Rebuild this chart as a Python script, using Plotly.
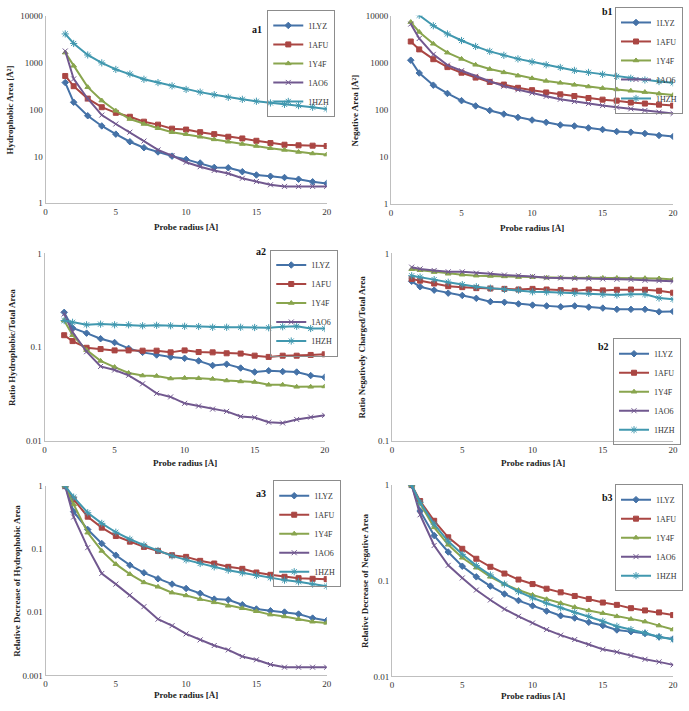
import plotly.graph_objects as go

# ---------------- data ----------------
radius = [1.4, 2, 3, 4, 5, 6, 7, 8, 9, 10, 11, 12, 13, 14, 15, 16, 17, 18, 19, 20]
proteins = ["1LYZ", "1AFU", "1Y4F", "1AO6", "1HZH"]

# a1: Hydrophobic area
a1_1LYZ = [376, 143, 73.6, 44.6, 29.8, 20.5, 15.3, 12.4, 10.1, 8.6, 7.2, 5.8, 5.7, 4.7, 4.0, 3.76, 3.53, 3.25, 2.86, 2.64]
a1_1AFU = [520, 315, 171, 112, 85, 70, 55, 47.5, 39, 37.3, 32.8, 29.8, 26.2, 24.1, 21.5, 19.2, 17.7, 17.2, 16.9, 16.6]
a1_1Y4F = [1640, 857, 300, 155, 94, 62.5, 49, 39.8, 32.8, 29.8, 26.2, 23, 20.5, 18.3, 16.6, 14.9, 13.7, 12.4, 11.5, 10.9]
a1_1AO6 = [1775, 450, 170, 76, 49, 32.8, 21.2, 13.7, 10.4, 7.5, 6.0, 5.0, 4.3, 3.4, 2.9, 2.47, 2.28, 2.28, 2.28, 2.28]
a1_1HZH = [4110, 2570, 1460, 990, 718, 573, 442, 376, 320, 268, 235, 207, 182, 165, 150, 138, 129, 121, 112, 103]

# b1: Negative area
b1_1LYZ = [1142, 610, 337, 225, 158, 122, 97.7, 81.9, 69.7, 61.2, 54.7, 48.1, 45.8, 41.6, 38.5, 34.9, 33.8, 31.7, 28.8, 27.4]
b1_1AFU = [2850, 1940, 1200, 815, 620, 488, 395, 347, 296, 264, 236, 215, 198, 180, 166, 158, 144, 137, 130, 124]
b1_1Y4F = [7370, 4550, 2550, 1650, 1218, 912, 740, 630, 536, 472, 415, 377, 342, 315, 291, 273, 256, 240, 222, 208]
b1_1AO6 = [6690, 3300, 1520, 897, 683, 520, 408, 321, 269, 229, 195, 169, 151, 137, 124, 115, 106, 97.7, 90, 84.6]
b1_1HZH = [16000, 10300, 6170, 4130, 2990, 2240, 1760, 1450, 1218, 1054, 912, 802, 694, 630, 572, 519, 472, 435, 402, 377]

# a2: Ratio hydrophobic / total area
a2_1LYZ = [0.235, 0.16, 0.141, 0.123, 0.112, 0.0969, 0.0879, 0.0824, 0.0786, 0.076, 0.0713, 0.0637, 0.0658, 0.0598, 0.0542, 0.056, 0.0548, 0.0542, 0.0497, 0.0477]
a2_1AFU = [0.134, 0.116, 0.0984, 0.0953, 0.0923, 0.0923, 0.0916, 0.0916, 0.0879, 0.0923, 0.0886, 0.0879, 0.0859, 0.0853, 0.0811, 0.0786, 0.081, 0.081, 0.0825, 0.0838]
a2_1Y4F = [0.192, 0.134, 0.093, 0.0713, 0.0612, 0.053, 0.0497, 0.0492, 0.0462, 0.0469, 0.0465, 0.0458, 0.044, 0.043, 0.0424, 0.0396, 0.0396, 0.0377, 0.0377, 0.038]
a2_1AO6 = [0.226, 0.145, 0.0893, 0.0622, 0.0569, 0.05, 0.0406, 0.0321, 0.0294, 0.0251, 0.0235, 0.0218, 0.0206, 0.0182, 0.0177, 0.0158, 0.0155, 0.0169, 0.0179, 0.0187]
a2_1HZH = [0.192, 0.184, 0.173, 0.176, 0.173, 0.173, 0.169, 0.171, 0.169, 0.167, 0.166, 0.163, 0.163, 0.163, 0.162, 0.161, 0.165, 0.167, 0.158, 0.158]

# b2: Ratio negatively charged / total area
b2_1LYZ = [0.71, 0.664, 0.637, 0.614, 0.597, 0.576, 0.553, 0.549, 0.538, 0.53, 0.525, 0.519, 0.525, 0.517, 0.511, 0.503, 0.503, 0.503, 0.488, 0.49]
b2_1AFU = [0.731, 0.716, 0.691, 0.669, 0.661, 0.653, 0.65, 0.647, 0.642, 0.647, 0.642, 0.637, 0.632, 0.642, 0.635, 0.64, 0.642, 0.64, 0.632, 0.617]
b2_1Y4F = [0.824, 0.814, 0.795, 0.779, 0.77, 0.761, 0.758, 0.754, 0.748, 0.748, 0.742, 0.742, 0.74, 0.742, 0.74, 0.74, 0.738, 0.738, 0.735, 0.725]
b2_1AO6 = [0.845, 0.827, 0.811, 0.798, 0.798, 0.785, 0.779, 0.767, 0.761, 0.754, 0.742, 0.74, 0.736, 0.733, 0.731, 0.728, 0.725, 0.719, 0.716, 0.71]
b2_1HZH = [0.76, 0.748, 0.725, 0.702, 0.682, 0.664, 0.653, 0.642, 0.637, 0.624, 0.622, 0.617, 0.612, 0.612, 0.605, 0.6, 0.605, 0.605, 0.578, 0.569]

# a3: Relative decrease of hydrophobic area
a3_1LYZ = [1, 0.393, 0.205, 0.123, 0.0804, 0.0559, 0.0423, 0.034, 0.028, 0.0239, 0.02, 0.0162, 0.0158, 0.0132, 0.0113, 0.0106, 0.0101, 0.0094, 0.0081, 0.0074]
a3_1AFU = [1, 0.616, 0.328, 0.22, 0.162, 0.132, 0.109, 0.094, 0.0804, 0.0757, 0.0655, 0.0594, 0.0526, 0.0489, 0.0428, 0.0393, 0.0366, 0.0348, 0.034, 0.0336]
a3_1Y4F = [1, 0.513, 0.183, 0.094, 0.058, 0.0403, 0.0298, 0.0254, 0.0205, 0.0185, 0.0162, 0.0144, 0.0127, 0.0116, 0.0104, 0.0092, 0.0086, 0.0078, 0.0071, 0.0068]
a3_1AO6 = [1, 0.324, 0.106, 0.0413, 0.028, 0.0188, 0.0123, 0.0078, 0.00615, 0.00455, 0.00366, 0.00298, 0.00254, 0.002, 0.00177, 0.00149, 0.00135, 0.00135, 0.00135, 0.00135]
a3_1HZH = [1, 0.67, 0.379, 0.257, 0.186, 0.144, 0.116, 0.0953, 0.0785, 0.0679, 0.0594, 0.0526, 0.0466, 0.0423, 0.0384, 0.0353, 0.0324, 0.0305, 0.028, 0.026]

# b3: Relative decrease of negative area
b3_1LYZ = [1, 0.538, 0.297, 0.2, 0.142, 0.11, 0.088, 0.0728, 0.0621, 0.0547, 0.0482, 0.0431, 0.0408, 0.0368, 0.034, 0.0306, 0.0294, 0.0281, 0.0259, 0.0247]
b3_1AFU = [1, 0.683, 0.424, 0.285, 0.216, 0.17, 0.14, 0.119, 0.103, 0.0924, 0.0826, 0.0757, 0.0694, 0.0646, 0.0592, 0.056, 0.0517, 0.049, 0.0467, 0.0438]
b3_1Y4F = [1, 0.641, 0.362, 0.238, 0.174, 0.137, 0.11, 0.0924, 0.08, 0.0711, 0.0641, 0.0583, 0.053, 0.049, 0.0459, 0.0425, 0.0398, 0.0374, 0.034, 0.0309]
b3_1AO6 = [1, 0.49, 0.234, 0.145, 0.107, 0.08, 0.063, 0.0505, 0.0425, 0.0362, 0.0309, 0.027, 0.0243, 0.0216, 0.0192, 0.018, 0.0165, 0.0151, 0.0142, 0.0132]
b3_1HZH = [1, 0.662, 0.392, 0.259, 0.189, 0.144, 0.115, 0.0924, 0.0769, 0.0662, 0.0583, 0.0522, 0.0467, 0.0425, 0.0377, 0.0334, 0.0309, 0.0285, 0.0259, 0.0243]

x_ticks = [0, 5, 10, 15, 20]
x_ticklabels = ["0", "5", "10", "15", "20"]

panels = [
    ("a1", [a1_1LYZ, a1_1AFU, a1_1Y4F, a1_1AO6, a1_1HZH], "Hydrophobic Area [Å²]",
     [1, 10, 100, 1000, 10000], ["1", "10", "100", "1000", "10000"]),
    ("b1", [b1_1LYZ, b1_1AFU, b1_1Y4F, b1_1AO6, b1_1HZH], "Negative Area [Å²]",
     [1, 10, 100, 1000, 10000], ["1", "10", "100", "1000", "10000"]),
    ("a2", [a2_1LYZ, a2_1AFU, a2_1Y4F, a2_1AO6, a2_1HZH], "Ratio Hydrophobic/Total Area",
     [0.01, 0.1, 1], ["0.01", "0.1", "1"]),
    ("b2", [b2_1LYZ, b2_1AFU, b2_1Y4F, b2_1AO6, b2_1HZH], "Ratio Negatively Charged/Total Area",
     [0.1, 1], ["0.1", "1"]),
    ("a3", [a3_1LYZ, a3_1AFU, a3_1Y4F, a3_1AO6, a3_1HZH], "Relative Decrease of Hydrophobic Area",
     [0.001, 0.01, 0.1, 1], ["0.001", "0.01", "0.1", "1"]),
    ("b3", [b3_1LYZ, b3_1AFU, b3_1Y4F, b3_1AO6, b3_1HZH], "Relative Decrease of Negative Area",
     [0.01, 0.1, 1], ["0.01", "0.1", "1"]),
]

# ---------------- style / layout ----------------
W, H = 689, 711
colors = ["#4572A7", "#AA4643", "#89A54E", "#71588F", "#4198AF"]
symbols = ["diamond", "square", "triangle-up", "x-thin-open", "asterisk-open"]
msizes = [5, 5, 5, 5, 6]
FONT = "Liberation Serif, Times New Roman, serif"

# plot areas in pixels: (left, right, top, bottom)
boxes = {
    "a1": (44, 328, 11, 201), "b1": (393, 678, 11, 202),
    "a2": (43, 326, 252, 442), "b2": (394, 678, 252, 442),
    "a3": (44, 328, 488, 680), "b3": (394, 678, 487, 681),
}
xtitle_off = {"a1": 24, "b1": 24, "a2": 23, "b2": 23, "a3": 20, "b3": 20}
yranges = {"a1": [0, 4], "b1": [0, 4], "a2": [-2, 0], "b2": [-1, 0], "a3": [-3, 0], "b3": [-2, 0]}
legend_pos = {"a1": (268, 5, "left"), "b1": (688, 2, "right"), "a2": (271, 248, "left"),
              "b2": (686, 338, "right"), "a3": (274, 482, "left"), "b3": (688, 486, "right")}
label_pos = {"a1": (258, 25), "b1": (612, 7), "a2": (262, 250), "b2": (608, 346), "a3": (262, 495), "b3": (612, 500)}
ytitle_x = {"a1": 8, "b1": 357, "a2": 10, "b2": 364, "a3": 15, "b3": 367}

fig = go.Figure()
layout = dict(
    width=W, height=H, margin=dict(l=0, r=0, t=0, b=0),
    paper_bgcolor="white", plot_bgcolor="white",
    font=dict(family=FONT, size=9, color="#222"),
    annotations=[],
)

for i, (name, series, ytitle, yt, ytl) in enumerate(panels):
    k = i + 1
    xa = "xaxis" if k == 1 else f"xaxis{k}"
    ya = "yaxis" if k == 1 else f"yaxis{k}"
    xr = "x" if k == 1 else f"x{k}"
    yr = "y" if k == 1 else f"y{k}"
    lg = "legend" if k == 1 else f"legend{k}"
    l, r, t, b = boxes[name]
    layout[xa] = dict(domain=[l / W, r / W], anchor=yr, range=[0, 20], tickvals=x_ticks, ticktext=x_ticklabels,
                      showgrid=False, zeroline=False, showline=True, linecolor="#BFBFBF", linewidth=1,
                      ticks="", tickfont=dict(size=9, family=FONT, color="#333"))
    layout[ya] = dict(domain=[1 - b / H, 1 - t / H], anchor=xr, type="log", range=yranges[name],
                      tickvals=yt, ticktext=ytl, showgrid=False, zeroline=False, showline=True,
                      linecolor="#BFBFBF", linewidth=1, ticks="", tickfont=dict(size=9, family=FONT, color="#333"))
    lx, ly, lxa = legend_pos[name]
    layout[lg] = dict(x=lx / W, y=1 - ly / H, xanchor=lxa, yanchor="top", bgcolor="rgba(255,255,255,0)",
                      bordercolor="#8C8C8C", borderwidth=1, font=dict(size=8, family=FONT, color="#333"),
                      itemwidth=30, tracegroupgap=0)
    for j, p in enumerate(proteins):
        fig.add_trace(go.Scatter(
            x=radius, y=series[j], name=p, mode="lines+markers", xaxis=xr, yaxis=yr, legend=lg,
            line=dict(color=colors[j], width=2),
            marker=dict(symbol=symbols[j], size=msizes[j], color=colors[j],
                        line=dict(color=colors[j], width=1)),
        ))
    px, py = label_pos[name]
    layout["annotations"].append(dict(x=px / W, y=1 - py / H, xref="paper", yref="paper", text=f"<b>{name}</b>",
                                      xanchor="center", yanchor="middle", showarrow=False,
                                      font=dict(size=10, family=FONT, color="#111")))
    layout["annotations"].append(dict(x=(l + r) / 2 / W, y=1 - (b + xtitle_off[name]) / H, xref="paper", yref="paper",
                                      text="<b>Probe radius [Å]</b>", xanchor="center", yanchor="middle",
                                      showarrow=False, font=dict(size=9, family=FONT, color="#222")))
    layout["annotations"].append(dict(x=ytitle_x[name] / W, y=1 - (t + b) / 2 / H, xref="paper", yref="paper",
                                      text=f"<b>{ytitle}</b>", textangle=-90, xanchor="center", yanchor="middle",
                                      showarrow=False, font=dict(size=9, family=FONT, color="#222")))

fig.update_layout(**layout)
fig.write_html("out.html", config={"displayModeBar": False},
               post_script="document.body.style.margin='0';document.body.style.overflow='hidden';")
